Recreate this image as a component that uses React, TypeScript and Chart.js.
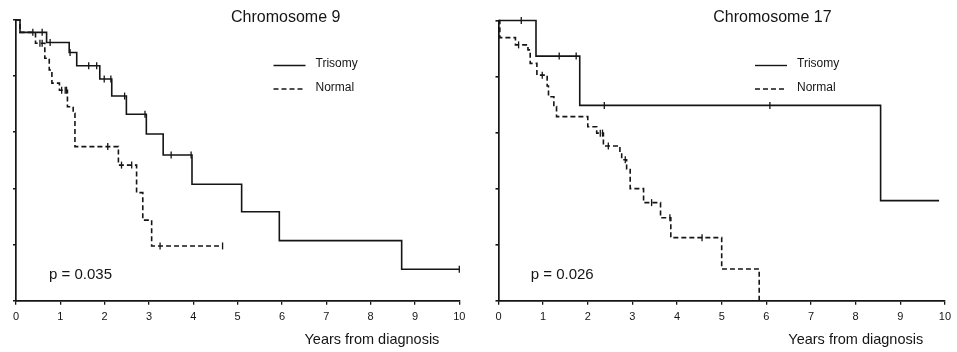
import React, { useEffect, useRef } from 'react';
import { Chart, registerables } from 'chart.js';

Chart.register(...registerables);

const FONT = '"Liberation Sans", Arial, Helvetica, sans-serif';
const INK = '#151515';

// ---- data (years from diagnosis, survival fraction) ----
const seriesNames = ['Trisomy', 'Normal'];
const panelTitles = ['Chromosome 9', 'Chromosome 17'];
const pValues = ['p = 0.035', 'p = 0.026'];
const xAxisTitle = 'Years from diagnosis';
const xTickValues = [0, 1, 2, 3, 4, 5, 6, 7, 8, 9, 10];
const yTickValues = [0, 0.2, 0.4, 0.6, 0.8, 1.0];

const chr9TrisomyYears = [0, 0.09, 0.69, 1.2, 1.37, 1.89, 2.16, 2.49, 2.94, 3.32, 3.97, 5.09, 5.94, 8.7, 10.0];
const chr9TrisomySurvival = [1, 0.956, 0.92, 0.884, 0.837, 0.79, 0.729, 0.664, 0.594, 0.519, 0.415, 0.317, 0.214, 0.112, 0.112];
const chr9TrisomyCensored = [0.38, 0.59, 0.77, 1.22, 1.64, 1.82, 1.99, 2.14, 2.45, 2.91, 3.5, 3.95, 10.0];

const chr9NormalYears = [0, 0.09, 0.44, 0.65, 0.75, 0.81, 0.98, 1.16, 1.29, 1.33, 2.31, 2.72, 2.86, 3.06, 4.66];
const chr9NormalSurvival = [1, 0.956, 0.917, 0.864, 0.822, 0.775, 0.75, 0.691, 0.668, 0.549, 0.483, 0.385, 0.287, 0.195, 0.195];
const chr9NormalCensored = [0.54, 0.59, 1.03, 1.11, 1.14, 2.07, 2.38, 2.61, 3.25, 4.66];

const chr17TrisomyYears = [0, 0.84, 1.82, 8.56, 9.87];
const chr17TrisomySurvival = [1, 0.873, 0.697, 0.357, 0.357];
const chr17TrisomyCensored = [0.51, 1.36, 1.74, 2.37, 6.08];

const chr17NormalYears = [0, 0.03, 0.38, 0.66, 0.71, 0.86, 1.09, 1.12, 1.24, 1.3, 2.0, 2.2, 2.35, 2.72, 2.76, 2.87, 2.95, 3.25, 3.63, 3.86, 5.0, 5.84];
const chr17NormalSurvival = [1, 0.939, 0.913, 0.895, 0.847, 0.805, 0.766, 0.728, 0.693, 0.657, 0.621, 0.598, 0.552, 0.527, 0.503, 0.468, 0.4, 0.35, 0.296, 0.225, 0.113, 0];
const chr17NormalCensored = [0.45, 0.98, 2.28, 2.33, 2.46, 2.84, 3.43, 3.84, 4.56];

function levelAt(years: number[], surv: number[], t: number) {
  let v = surv[0];
  for (let i = 0; i < years.length; i++) if (years[i] <= t) v = surv[i];
  return v;
}

const textPlugin = {
  id: 'panelText',
  afterDraw(chart: any, _args: any, opts: any) {
    const ctx = chart.ctx as CanvasRenderingContext2D;
    ctx.save();
    ctx.fillStyle = INK;
    ctx.textAlign = 'left';
    ctx.textBaseline = 'alphabetic';
    for (const t of opts.items || []) {
      ctx.font = `${t.size}px ${FONT}`;
      ctx.fillText(t.text, t.x, t.y);
    }
    ctx.strokeStyle = INK;
    ctx.lineWidth = 1.4;
    for (const l of opts.lines || []) {
      ctx.beginPath();
      ctx.setLineDash(l.dash);
      ctx.moveTo(l.x1, l.y);
      ctx.lineTo(l.x2, l.y);
      ctx.stroke();
    }
    ctx.restore();
  },
};

type PanelSpec = {
  width: number;
  axisLeft: number;
  axisRight: number;
  top: number;
  bottom: number;
  tri: [number[], number[], number[]];
  nor: [number[], number[], number[]];
  title: string;
  p: string;
  titleX: number;
  legendX: number;
  pX: number;
  axisTitleX: number;
};

function makeChart(canvas: HTMLCanvasElement, s: PanelSpec) {
  const [tY, tS, tC] = s.tri;
  const [nY, nS, nC] = s.nor;
  const curve = (ys: number[], ss: number[]) => ys.map((x, i) => ({ x, y: ss[i] }));
  const cens = (ys: number[], ss: number[], cs: number[]) => cs.map((x) => ({ x, y: levelAt(ys, ss, x) }));
  const censorStyle = {
    type: 'scatter' as const,
    pointStyle: 'line',
    rotation: 90,
    pointRadius: 3.5,
    pointBorderWidth: 1.3,
    pointBorderColor: INK,
    borderColor: INK,
    showLine: false,
    clip: false as any,
  };
  return new Chart(canvas, {
    type: 'line',
    data: {
      datasets: [
        {
          label: seriesNames[0],
          data: curve(tY, tS),
          stepped: 'before',
          borderColor: INK,
          borderWidth: 1.6,
          pointRadius: 0,
          fill: false,
          clip: false as any,
        },
        {
          label: seriesNames[1],
          data: curve(nY, nS),
          stepped: 'before',
          borderColor: INK,
          borderWidth: 1.6,
          borderDash: [5, 3],
          pointRadius: 0,
          fill: false,
          clip: false as any,
        },
        { label: seriesNames[0] + ' censored', data: cens(tY, tS, tC), ...censorStyle } as any,
        { label: seriesNames[1] + ' censored', data: cens(nY, nS, nC), ...censorStyle } as any,
      ],
    },
    options: {
      animation: false,
      responsive: false,
      devicePixelRatio: 1,
      layout: { padding: { left: 0, right: s.width - s.axisRight, top: s.top, bottom: 0 } },
      plugins: {
        legend: { display: false },
        tooltip: { enabled: false },
        title: { display: false },
        panelText: {
          items: [
            { text: s.title, x: s.titleX, y: 22, size: 16 },
            { text: seriesNames[0], x: s.legendX + 42, y: 67, size: 12 },
            { text: seriesNames[1], x: s.legendX + 42, y: 91, size: 12 },
            { text: s.p, x: s.pX, y: 279, size: 15 },
            { text: xAxisTitle, x: s.axisTitleX, y: 344, size: 14.5 },
          ],
          lines: [
            { x1: s.legendX, x2: s.legendX + 32, y: 65.5, dash: [] },
            { x1: s.legendX, x2: s.legendX + 32, y: 89, dash: [5, 3] },
          ],
        },
      } as any,
      scales: {
        x: {
          type: 'linear',
          min: 0,
          max: 10,
          afterBuildTicks: (sc: any) => {
            sc.ticks = xTickValues.map((v) => ({ value: v }));
          },
          afterFit: (sc: any) => {
            sc.height = 352 - s.bottom;
          },
          ticks: {
            color: INK,
            font: { family: FONT, size: 11 },
            padding: 6,
            maxRotation: 0,
            autoSkip: false,
          },
          grid: { drawOnChartArea: false, drawTicks: true, tickLength: 4, color: INK, lineWidth: 1.3 },
          border: { display: true, color: INK, width: 1.7 },
        },
        y: {
          type: 'linear',
          min: 0,
          max: 1,
          afterBuildTicks: (sc: any) => {
            sc.ticks = yTickValues.map((v) => ({ value: v }));
          },
          afterFit: (sc: any) => {
            sc.width = s.axisLeft;
          },
          ticks: { callback: () => '', padding: 0 },
          grid: { drawOnChartArea: false, drawTicks: true, tickLength: 3, color: INK, lineWidth: 1.6 },
          border: { display: true, color: INK, width: 1.7 },
        },
      },
    },
    plugins: [textPlugin as any],
  });
}

const leftSpec: PanelSpec = {
  width: 478,
  axisLeft: 16,
  axisRight: 459.3,
  top: 20,
  bottom: 300.7,
  tri: [chr9TrisomyYears, chr9TrisomySurvival, chr9TrisomyCensored],
  nor: [chr9NormalYears, chr9NormalSurvival, chr9NormalCensored],
  title: panelTitles[0],
  p: pValues[0],
  titleX: 231,
  legendX: 273.5,
  pX: 49,
  axisTitleX: 304.5,
};

const rightSpec: PanelSpec = {
  width: 479,
  axisLeft: 20.5,
  axisRight: 467.7,
  top: 20.5,
  bottom: 300.7,
  tri: [chr17TrisomyYears, chr17TrisomySurvival, chr17TrisomyCensored],
  nor: [chr17NormalYears, chr17NormalSurvival, chr17NormalCensored],
  title: panelTitles[1],
  p: pValues[1],
  titleX: 235.3,
  legendX: 277,
  pX: 52.7,
  axisTitleX: 310.3,
};

export default function App() {
  const leftRef = useRef<HTMLCanvasElement>(null);
  const rightRef = useRef<HTMLCanvasElement>(null);
  useEffect(() => {
    document.body.style.margin = '0';
    const a = makeChart(leftRef.current!, leftSpec);
    const b = makeChart(rightRef.current!, rightSpec);
    return () => {
      a.destroy();
      b.destroy();
    };
  }, []);
  return (
    <div style={{ position: 'fixed', left: 0, top: 0, width: 957, height: 352, background: '#fff' }}>
      <canvas ref={leftRef} width={478} height={352} style={{ position: 'absolute', left: 0, top: 0, width: 478, height: 352 }} />
      <canvas ref={rightRef} width={479} height={352} style={{ position: 'absolute', left: 478, top: 0, width: 479, height: 352 }} />
    </div>
  );
}
